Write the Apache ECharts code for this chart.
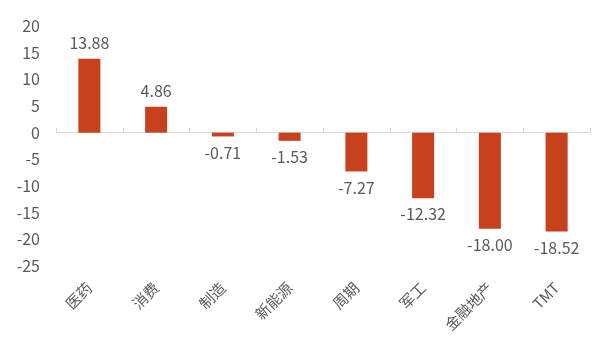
<!DOCTYPE html>
<html>
<head>
<meta charset="utf-8">
<script src="https://cdn.jsdelivr.net/npm/echarts@6/dist/echarts.min.js"></script>
<style>html,body{margin:0;padding:0;background:#fff}#c{width:606px;height:342px}</style>
</head>
<body>
<div id="c"></div>
<script>
var categories = ['医药', '消费', '制造', '新能源', '周期', '军工', '金融地产', 'TMT'];
var values = [13.88, 4.86, -0.71, -1.53, -7.27, -12.32, -18.00, -18.52];
var yTicks = [-25, -20, -15, -10, -5, 0, 5, 10, 15, 20];

var font = '"Noto Sans CJK SC", "Noto Sans", sans-serif';
var textColor = '#595959';
var chart = echarts.init(document.getElementById('c'), null, {renderer: 'canvas'});
chart.setOption({
  animation: false,
  backgroundColor: '#ffffff',
  grid: {left: 56, right: 16, top: 26, bottom: 76, containLabel: false},
  xAxis: [{
    type: 'category',
    data: categories,
    axisLine: {show: true, onZero: true, lineStyle: {color: '#d9d9d9', width: 1}},
    axisTick: {show: true, inside: true, length: 5, lineStyle: {color: '#d9d9d9'}},
    axisLabel: {show: false}
  }, {
    type: 'category',
    data: categories,
    position: 'bottom',
    axisLine: {show: false, onZero: false},
    axisTick: {show: false},
    axisLabel: {rotate: 45, margin: 19, color: textColor, fontSize: 15, fontFamily: font, interval: 0}
  }],
  yAxis: {
    type: 'value',
    min: yTicks[0],
    max: yTicks[yTicks.length - 1],
    interval: 5,
    axisLine: {show: false},
    axisTick: {show: false},
    splitLine: {show: false},
    axisLabel: {color: textColor, fontSize: 16, fontFamily: font, margin: 16}
  },
  series: [{
    type: 'bar',
    xAxisIndex: 0,
    barWidth: '33%',
    itemStyle: {color: '#C8411D'},
    data: values.map(function (v) {
      return {value: v, label: {position: v >= 0 ? 'top' : 'bottom'}};
    }),
    label: {
      show: true,
      color: textColor,
      fontSize: 16,
      fontFamily: font,
      distance: 8,
      formatter: function (p) { return p.value.toFixed(2); }
    }
  }]
});
</script>
</body>
</html>
